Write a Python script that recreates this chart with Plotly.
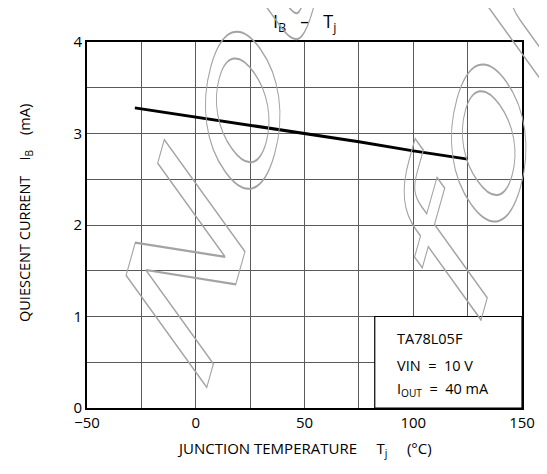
import plotly.graph_objects as go

# Data
temp_c = [-28, 0, 25, 50, 75, 100, 125]
ib_ma = [3.28, 3.18, 3.09, 3.00, 2.91, 2.81, 2.72]

x_ticks = [-50, 0, 50, 100, 150]
x_tick_labels = ["\u221250", "0", "50", "100", "150"]
y_ticks = [0, 1, 2, 3, 4]
y_tick_labels = ["0", "1", "2", "3", "4"]

box_lines = ["TA78L05F", "VIN  =  10 V", "I<sub>OUT</sub>  =  40 mA"]
box_y = [0.755, 0.46, 0.20]

watermark_words = ["Not", "for"]

FONT = "Open Sans, Noto Sans, DejaVu Sans, sans-serif"

W, H = 539, 466
ML, MR, MT, MB = 79, 17, 34, 66
PW = W - ML - MR
PH = H - MT - MB

fig = go.Figure()
fig.add_trace(go.Scatter(x=temp_c, y=ib_ma, mode="lines",
                         line=dict(color="black", width=3), showlegend=False,
                         hoverinfo="skip"))

axis_common = dict(showline=True, linecolor="black", linewidth=2, mirror=True,
                   ticks="", zeroline=False, gridcolor="#5a5a5a", gridwidth=1,
                   tickfont=dict(family=FONT, size=15, color="black"))

fig.update_xaxes(range=[-50, 150], tickvals=x_ticks, ticktext=x_tick_labels,
                 minor=dict(dtick=25, tick0=-50, showgrid=True, gridcolor="#5a5a5a", gridwidth=1),
                 **axis_common)
fig.update_yaxes(range=[0, 4], tickvals=y_ticks, ticktext=y_tick_labels,
                 minor=dict(dtick=0.5, tick0=0, showgrid=True, gridcolor="#5a5a5a", gridwidth=1),
                 **axis_common)

# Condition box
fig.add_shape(type="rect", xref="x", yref="y", x0=82.3, x1=150, y0=0, y1=1,
              fillcolor="white", line=dict(color="black", width=1.2), layer="above")

for txt, yy in zip(box_lines, box_y):
    fig.add_annotation(x=91.5, y=yy, xref="x", yref="y", text=txt, showarrow=False,
                       xanchor="left", yanchor="middle",
                       font=dict(family=FONT, size=14.5, color="black"))

# Titles
fig.add_annotation(xref="paper", yref="paper", x=0.5, y=1, yshift=20,
                   text="I<sub>B</sub>   \u2013   T<sub>j</sub>",
                   showarrow=False, xanchor="center", yanchor="middle",
                   font=dict(family=FONT, size=18, color="black"))
fig.add_annotation(xref="paper", yref="paper", x=0.5, y=0, yshift=-41,
                   text="JUNCTION TEMPERATURE     T<sub>j</sub>     (\u00b0C)",
                   showarrow=False, xanchor="center", yanchor="middle",
                   font=dict(family=FONT, size=15, color="black"))
fig.add_annotation(xref="paper", yref="paper", x=0, y=0.5, yshift=12, xshift=-62,
                   text="QUIESCENT CURRENT    I<sub>B</sub>    (mA)", textangle=-90,
                   showarrow=False, xanchor="center", yanchor="middle",
                   font=dict(family=FONT, size=14.5, color="black"))

# Watermark: outlined, rotated and horizontally squeezed words
wm_centers = [(215, 135), (478, 115)]   # svg px
WM_SCALE = 0.45
js_map = []
for word, (cx, cy) in zip(watermark_words, wm_centers):
    fig.add_annotation(xref="paper", yref="paper",
                       x=(cx - ML) / PW, y=1 - (cy - MT) / PH, text=word,
                       showarrow=False, textangle=-58, xanchor="center", yanchor="middle",
                       font=dict(family="DejaVu Sans", size=290, color="rgba(160,160,160,0.25)"))
    js_map.append("'%s':%d" % (word, cx))

fig.update_layout(width=W, height=H, margin=dict(l=ML, r=MR, t=MT, b=MB),
                  plot_bgcolor="white", paper_bgcolor="white", showlegend=False)

post = """
var gd = document.getElementById('{plot_id}');
var WM = {%s};
var S = %s;
function wm(){
  gd.querySelectorAll('g.annotation').forEach(function(g){
    var t = g.querySelector('text.annotation-text');
    if(!t) return;
    var k = t.textContent;
    if(WM.hasOwnProperty(k)){
      t.style.fill='none'; t.style.stroke='#a3a3a3'; t.style.strokeWidth='1.6px';
      t.style.vectorEffect='non-scaling-stroke';
      var cx = WM[k];
      g.setAttribute('transform','matrix('+S+',0,0,1,'+(cx*(1-S))+',0)');
    }
  });
}
wm();
if(gd.on){ gd.on('plotly_afterplot', wm); }
""" % (",".join(js_map), WM_SCALE)
fig.write_html("out.html", post_script=post)
